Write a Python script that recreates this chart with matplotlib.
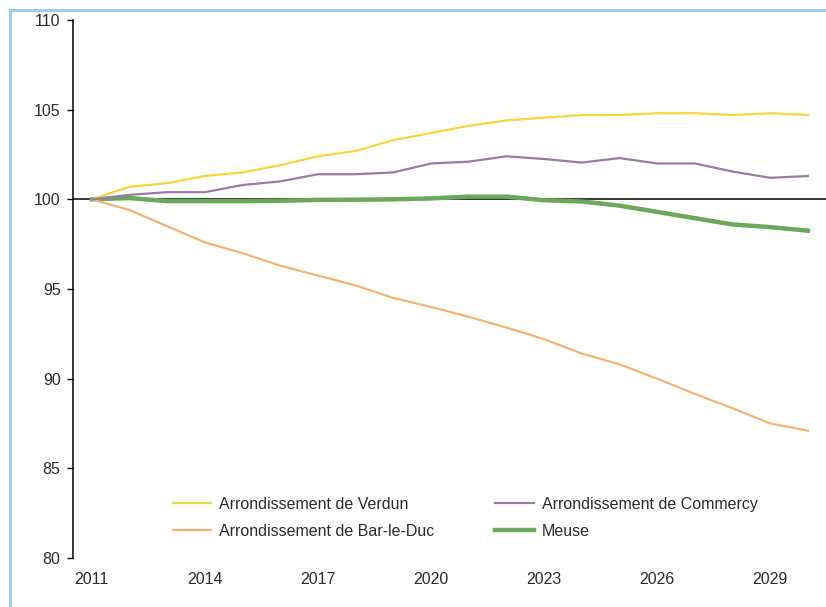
import matplotlib.pyplot as plt
from matplotlib.lines import Line2D

# index base 100 in 2011
years = list(range(2011, 2031))
verdun = [100, 100.7, 100.9, 101.3, 101.5, 101.9, 102.4, 102.7, 103.3, 103.7,
          104.1, 104.4, 104.55, 104.7, 104.7, 104.8, 104.8, 104.7, 104.8, 104.7]
commercy = [100, 100.25, 100.4, 100.4, 100.8, 101.0, 101.4, 101.4, 101.5, 102.0,
            102.1, 102.4, 102.25, 102.05, 102.3, 102.0, 102.0, 101.55, 101.2, 101.3]
bar_le_duc = [100, 99.4, 98.5, 97.6, 97.0, 96.3, 95.75, 95.2, 94.5, 94.0,
              93.45, 92.85, 92.2, 91.4, 90.8, 90.0, 89.15, 88.35, 87.5, 87.1]
meuse = [100, 100.07, 99.9, 99.9, 99.9, 99.92, 99.97, 99.98, 100.0, 100.05,
         100.15, 100.15, 99.95, 99.88, 99.65, 99.3, 98.95, 98.6, 98.45, 98.25]

xticks = [2011, 2014, 2017, 2020, 2023, 2026, 2029]
yticks = [80, 85, 90, 95, 100, 105, 110]

plt.rcParams['font.family'] = ['Liberation Sans', 'DejaVu Sans']
text_color = '#2b2b2b'

fig = plt.figure(figsize=(8.26, 6.07), dpi=100)
ax = fig.add_axes([73/826, 1 - 558/607, 1 - 73/826, (558 - 20)/607])

ax.axhline(100, color='black', lw=1.1, zorder=1)
l_verdun, = ax.plot(years, verdun, color='#F5D640', lw=1.6, label='Arrondissement de Verdun', zorder=3)
l_bar, = ax.plot(years, bar_le_duc, color='#F1B378', lw=1.6, label='Arrondissement de Bar-le-Duc', zorder=3)
l_com, = ax.plot(years, commercy, color='#9A7AA6', lw=1.6, label='Arrondissement de Commercy', zorder=3)
l_meuse, = ax.plot(years, meuse, color='#6AA85A', lw=3.2, label='Meuse', zorder=2)

ax.set_xlim(2010.5, 2030.48)
ax.set_ylim(80, 110)
ax.set_xticks(xticks)
ax.set_yticks(yticks)
ax.tick_params(axis='x', length=0, pad=10, labelsize=11.5, labelcolor=text_color)
ax.tick_params(axis='y', length=4, width=1, direction='out', pad=5, labelsize=11.5, labelcolor=text_color)

for side in ['top', 'right', 'bottom']:
    ax.spines[side].set_visible(False)
ax.spines['left'].set_linewidth(1.1)

ax.legend(handles=[l_verdun, l_bar, l_com, l_meuse], ncol=2, frameon=False,
          loc='upper left', bbox_to_anchor=(173/826, 1 - 497/607),
          bbox_transform=fig.transFigure, fontsize=11.5, labelcolor=text_color,
          handlelength=2.4, handletextpad=0.5, columnspacing=3.8,
          labelspacing=0.75, borderpad=0, borderaxespad=0)

# light blue frame around the figure (top and left visible)
frame_color = '#9CCBF7'
fig.add_artist(Line2D([10/826, 10/826], [0, 1 - 10/607], color=frame_color, lw=2.2))
fig.add_artist(Line2D([10/826, 1], [1 - 10/607, 1 - 10/607], color=frame_color, lw=2.2))

fig.savefig('out.png', dpi=100)
